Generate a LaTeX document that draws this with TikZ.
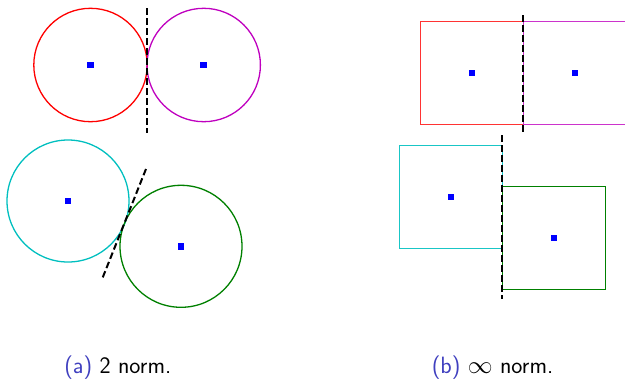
\documentclass[tikz,border=0pt]{standalone}
\usepackage{amsmath}
\begin{document}
\begin{tikzpicture}[x=1bp,y=-1bp,
  ball/.style={circle,draw,line width=1.3bp,minimum size=113.4bp,inner sep=0pt},
  bigball/.style={circle,draw,line width=1.3bp,minimum size=122bp,inner sep=0pt},
  box/.style={rectangle,draw,line width=0.9bp,minimum size=103bp,inner sep=0pt},
  ctr/.style={rectangle,fill=blue,minimum size=6.5bp,inner sep=0pt},
  sep/.style={line width=2bp,dash pattern=on 6.7bp off 3.3bp},
  captext/.style={font=\sffamily\fontsize{23.6bp}{28bp}\selectfont,anchor=base,inner sep=0pt}]
\definecolor{mred}{rgb}{1,0,0}
\definecolor{mmag}{rgb}{0.75,0,0.75}
\definecolor{mcyan}{rgb}{0,0.75,0.75}
\definecolor{mgreen}{rgb}{0,0.5,0}
\definecolor{capblue}{rgb}{0.25,0.25,0.75}
\useasboundingbox (0,0) rectangle (625,379);
% (a) 2 norm
\node[ball,draw=mred] (r1) at (90.5,65) {};
\node[ball,draw=mmag] (m1) at (203.7,65) {};
\node[bigball,draw=mcyan] (c1) at (68,201) {};
\node[bigball,draw=mgreen] (g1) at (181,246.3) {};
\node[ctr] (r1c) at (r1.center) {};
\node[ctr] (m1c) at (m1.center) {};
\node[ctr] (c1c) at (c1.center) {};
\node[ctr] (g1c) at (g1.center) {};
\coordinate (a1) at (147,8.3);
\coordinate (a2) at (147,132.7);
\draw[sep] (a1) -- (a2);
\coordinate (b1) at (146,169);
\coordinate (b2) at (101.7,280);
\draw[sep] (b1) -- (b2);
% (b) infinity norm
\node[box,draw=mred!80] (r2) at (471.8,73.2) {};
\node[box,draw=mmag!80] (m2) at (574.8,73.2) {};
\node[box,draw=mcyan!90] (c2) at (451,196.8) {};
\node[box,draw=mgreen] (g2) at (554,238) {};
\node[ctr] (r2c) at (r2.center) {};
\node[ctr] (m2c) at (m2.center) {};
\node[ctr] (c2c) at (c2.center) {};
\node[ctr] (g2c) at (g2.center) {};
\coordinate (d1) at (523.3,15.3);
\coordinate (d2) at (523.3,135);
\draw[sep] (d1) -- (d2);
\coordinate (e1) at (502.3,135.3);
\coordinate (e2) at (502.3,299.3);
\draw[sep] (e1) -- (e2);
% captions
\node[captext] (capa) at (117.8,373) {\textcolor{capblue}{(a)} 2 norm.};
\node[captext] (capb) at (492.5,373) {\textcolor{capblue}{(b)} $\infty$ norm.};
\end{tikzpicture}
\end{document}
